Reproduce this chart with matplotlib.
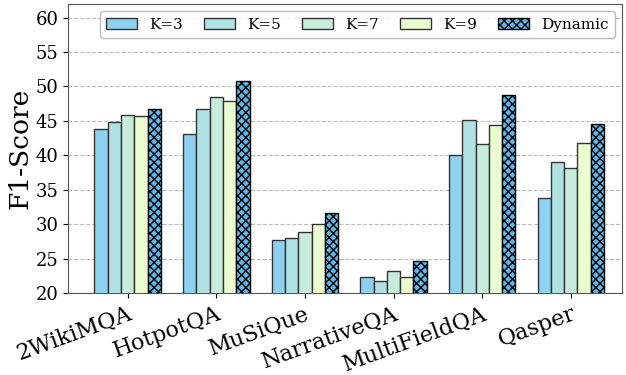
import matplotlib
matplotlib.use("Agg")
import matplotlib.pyplot as plt
import numpy as np

plt.rcParams['font.family'] = 'DejaVu Serif'
plt.rcParams['hatch.linewidth'] = 1.0

datasets = ['2WikiMQA', 'HotpotQA', 'MuSiQue', 'NarrativeQA', 'MultiFieldQA', 'Qasper']
k3 = [43.9, 43.1, 27.7, 22.3, 40.0, 33.8]
k5 = [44.9, 46.8, 28.0, 21.8, 45.1, 39.0]
k7 = [45.9, 48.4, 28.9, 23.3, 41.6, 38.2]
k9 = [45.7, 47.9, 30.1, 22.3, 44.4, 41.8]
dynamic = [46.7, 50.8, 31.6, 24.7, 48.7, 44.6]

labels = ['K=3', 'K=5', 'K=7', 'K=9', 'Dynamic']
series = [k3, k5, k7, k9, dynamic]
colors = ['#8ed0f0', '#b0e2e4', '#c8ecdb', '#ebfdd0', '#5eb6ea']

fig, ax = plt.subplots(figsize=(6.26, 3.75), dpi=100)
x = np.arange(len(datasets))
w = 0.15

for i, (lab, vals) in enumerate(zip(labels, series)):
    pos = x + (i - 2) * w
    if lab == 'Dynamic':
        ax.bar(pos, vals, w, label=lab, color=colors[i], edgecolor='black',
               hatch='xxxx', linewidth=1.0, zorder=3)
    else:
        ax.bar(pos, vals, w, label=lab, color=colors[i], edgecolor='#333333',
               linewidth=1.0, zorder=3)

ax.set_ylim(20, 62)
ax.set_yticks(range(20, 61, 5))
ax.set_xlim(-0.67, 5.58)
ax.set_xticks(x)
ax.set_xticklabels(datasets, rotation=20, ha='right', fontsize=16,
                   rotation_mode='anchor')
ax.tick_params(axis='y', labelsize=13)
ax.set_ylabel('F1-Score', fontsize=19, labelpad=2)
ax.grid(axis='y', linestyle='--', color='#bbbbbb', linewidth=0.8, zorder=0)
for s in ax.spines.values():
    s.set_color('#555555')

ax.legend(loc='upper right', ncol=5, fontsize=11, frameon=True,
          handlelength=2.0, columnspacing=1.4, edgecolor='#aaaaaa')

plt.subplots_adjust(left=0.109, right=0.994, top=0.99, bottom=0.218)
plt.savefig('out.png', dpi=100)
